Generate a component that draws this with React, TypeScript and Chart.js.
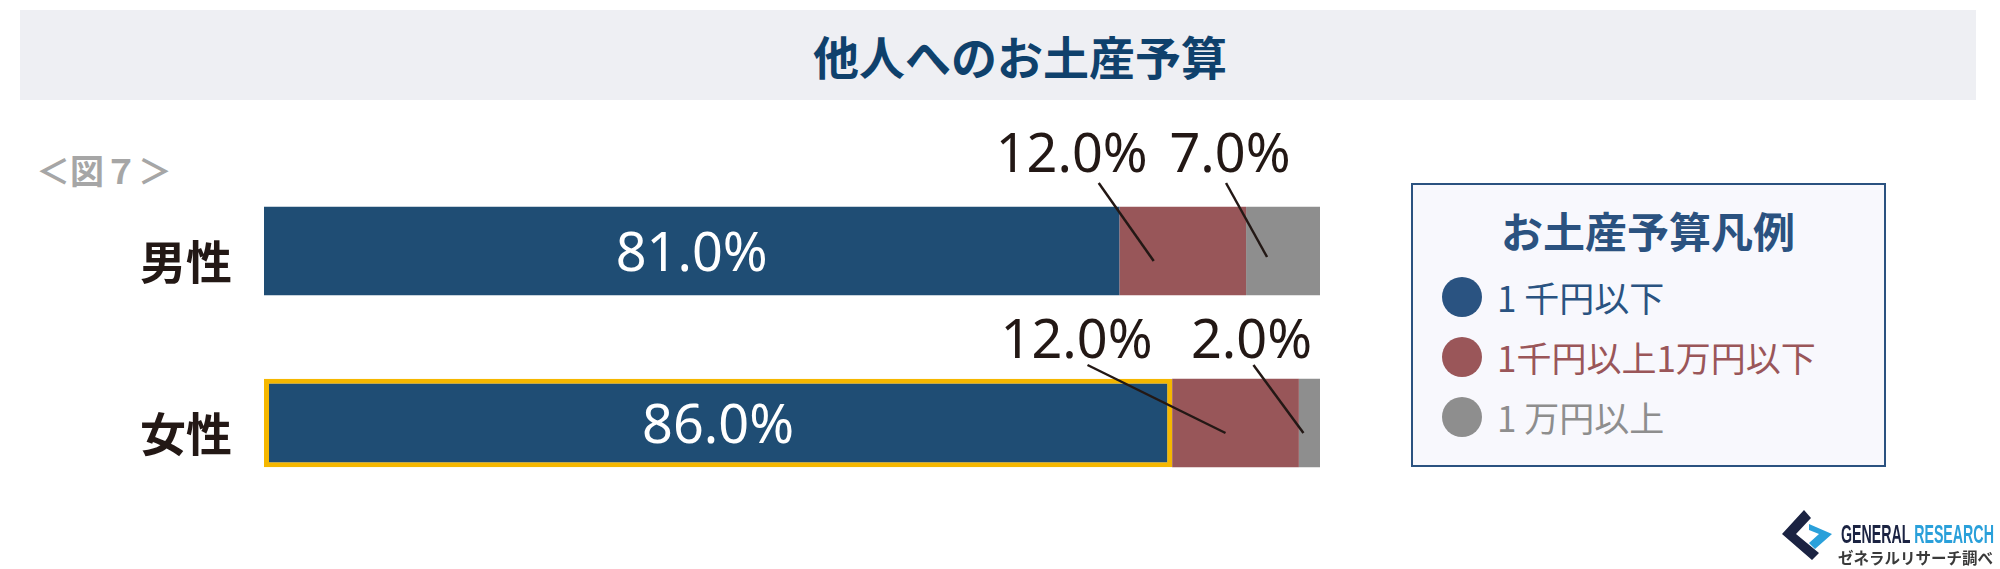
import React, { useEffect, useRef } from "react";
import { Chart, registerables } from "chart.js";

Chart.register(...registerables);

// ---- data ----
const categories = ["男性", "女性"];
const seriesNames = ["1 千円以下", "1千円以上1万円以下", "1 万円以上"];
const under1k = [81.0, 86.0];
const from1kTo10k = [12.0, 12.0];
const over10k = [7.0, 2.0];

// ---- styles ----
const barColors = ["#1f4d74", "#985659", "#8e8e8e"];
const legendColors = ["#2a5381", "#9a5659", "#8e8e8e"];
const textDark = "#231815";
const digitFont = '"Noto Sans", sans-serif';
const cjkFont = '"Noto Sans CJK JP", "Noto Sans", sans-serif';

// leader-label layout relative to segment centre: text (tx,ty), line start (sx,sy), line end (ex,ey)
const outerLabelLayout: Record<number, { tx: number; ty: number; sx: number; sy: number; ex: number; ey: number }[]> = {
  1: [
    { tx: -111, ty: -79, sx: -84, sy: -68, ex: -29, ey: 10 },
    { tx: -159, ty: -65, sx: -148, sy: -58, ex: -10, ey: 10 },
  ],
  2: [
    { tx: -53, ty: -79, sx: -57, sy: -68, ex: -16, ey: 6 },
    { tx: -58, ty: -65, sx: -56, sy: -58, ex: -6, ey: 10 },
  ],
};

const labelPlugin = {
  id: "labels",
  afterDatasetsDraw(chart: any) {
    const ctx = chart.ctx as CanvasRenderingContext2D;
    ctx.save();
    const yScale = chart.scales.y;
    ctx.font = `bold 46px ${cjkFont}`;
    ctx.fillStyle = textDark;
    ctx.textAlign = "right";
    ctx.textBaseline = "middle";
    categories.forEach((c, i) => {
      const y = yScale.getPixelForValue(i);
      ctx.fillText(c, 232, y + 11);
    });

    chart.data.datasets.forEach((ds: any, di: number) => {
      const meta = chart.getDatasetMeta(di);
      meta.data.forEach((el: any, i: number) => {
        const { x, base, y } = el.getProps(["x", "base", "y"], true);
        const cx = (x + base) / 2;
        const text = Number(ds.data[i]).toFixed(1) + "%";
        ctx.font = `400 54px ${digitFont}`;
        ctx.textBaseline = "alphabetic";
        ctx.textAlign = "center";
        if (di === 0) {
          ctx.fillStyle = "#ffffff";
          ctx.fillText(text, cx, y + 20);
        } else {
          const L = outerLabelLayout[di][i];
          ctx.fillStyle = textDark;
          ctx.fillText(text, cx + L.tx, y + L.ty);
          ctx.strokeStyle = textDark;
          ctx.lineWidth = 2.5;
          ctx.beginPath();
          ctx.moveTo(cx + L.sx, y + L.sy);
          ctx.lineTo(cx + L.ex, y + L.ey);
          ctx.stroke();
        }
      });
    });
    ctx.restore();
  },
};

function Logo() {
  const textRef = useRef<HTMLDivElement | null>(null);
  useEffect(() => {
    const el = textRef.current;
    if (!el) return;
    const w = el.scrollWidth;
    if (w > 0) el.style.transform = `scaleX(${153 / w})`;
  }, []);
  return (
    <>
      <svg width={58} height={58} style={{ position: "absolute", left: 1778, top: 506 }}>
        <polygon points="26,4 4,28 34,54 41,47 18,28 33,12" fill="#1b2342" />
        <polygon points="31,18 54,28 37,43 31,37 41,28 31,24" fill="#2aa0da" />
      </svg>
      <div
        ref={textRef}
        style={{
          position: "absolute",
          left: 1841,
          top: 519,
          font: `bold 26px "Liberation Sans Narrow", "Liberation Sans", sans-serif`,
          lineHeight: "30px",
          whiteSpace: "nowrap",
          display: "inline-block",
          transformOrigin: "left top",
        }}
      >
        <span style={{ color: "#1b2342" }}>GENERAL</span> <span style={{ color: "#2aa0da" }}>RESEARCH</span>
      </div>
      <div
        style={{
          position: "absolute",
          left: 1838,
          top: 548,
          font: `bold 15.5px ${cjkFont}`,
          lineHeight: "18px",
          color: "#3a3a3a",
          whiteSpace: "nowrap",
        }}
      >
        ゼネラルリサーチ調べ
      </div>
    </>
  );
}

export default function App() {
  const canvasRef = useRef<HTMLCanvasElement | null>(null);

  useEffect(() => {
    document.body.style.margin = "0";
    const canvas = canvasRef.current;
    if (!canvas) return;
    const chart = new Chart(canvas, {
      type: "bar",
      data: {
        labels: categories,
        datasets: [
          {
            label: seriesNames[0],
            data: under1k,
            backgroundColor: barColors[0],
            borderColor: ["rgba(0,0,0,0)", "#f5b700"],
            borderWidth: [0, 5],
            borderSkipped: false,
          },
          { label: seriesNames[1], data: from1kTo10k, backgroundColor: barColors[1], borderWidth: 0 },
          { label: seriesNames[2], data: over10k, backgroundColor: barColors[2], borderWidth: 0 },
        ],
      },
      options: {
        indexAxis: "y",
        animation: false,
        responsive: false,
        devicePixelRatio: 1,
        layout: { padding: { left: 264, right: 680, top: 165, bottom: 60 } },
        datasets: { bar: { categoryPercentage: 1, barPercentage: 0.515 } },
        scales: {
          x: { stacked: true, min: 0, max: 100, display: false },
          y: { stacked: true, display: false },
        },
        plugins: { legend: { display: false }, tooltip: { enabled: false } },
      },
      plugins: [labelPlugin],
    } as any);
    return () => chart.destroy();
  }, []);

  const legendRow = (i: number, cy: number) => (
    <div
      key={i}
      style={{
        position: "absolute",
        left: 1442,
        top: cy - 22,
        height: 44,
        display: "flex",
        alignItems: "center",
        whiteSpace: "nowrap",
      }}
    >
      <div style={{ width: 40, height: 40, borderRadius: 20, background: legendColors[i] }} />
      <span
        style={{
          marginLeft: 15,
          font: `400 35px ${cjkFont}`,
          lineHeight: "44px",
          color: legendColors[i],
        }}
      >
        {seriesNames[i]}
      </span>
    </div>
  );

  return (
    <div style={{ position: "absolute", left: 0, top: 0, width: 2000, height: 569, background: "#fff", overflow: "hidden" }}>
      <div style={{ position: "absolute", left: 20, top: 10, width: 1956, height: 90, background: "#eeeff3" }} />
      <div
        style={{
          position: "absolute",
          left: 1020,
          top: 32,
          transform: "translateX(-50%)",
          font: `bold 46px ${cjkFont}`,
          lineHeight: "46px",
          color: "#0f416c",
          whiteSpace: "nowrap",
        }}
      >
        他人へのお土産予算
      </div>
      <div
        style={{
          position: "absolute",
          left: 36,
          top: 153,
          font: `bold 34px ${cjkFont}`,
          lineHeight: "34px",
          color: "#a6a6a6",
          whiteSpace: "nowrap",
        }}
      >
        ＜図７＞
      </div>

      <canvas ref={canvasRef} width={2000} height={569} style={{ position: "absolute", left: 0, top: 0, width: 2000, height: 569 }} />

      <div
        style={{
          position: "absolute",
          left: 1411,
          top: 183,
          width: 471,
          height: 280,
          border: "2px solid #2b5280",
          background: "#f8f8fd",
        }}
      />
      <div
        style={{
          position: "absolute",
          left: 1648,
          top: 209,
          transform: "translateX(-50%)",
          font: `bold 42px ${cjkFont}`,
          lineHeight: "42px",
          color: "#2b5280",
          whiteSpace: "nowrap",
        }}
      >
        お土産予算凡例
      </div>
      {legendRow(0, 297)}
      {legendRow(1, 357)}
      {legendRow(2, 417)}

      <Logo />
    </div>
  );
}
